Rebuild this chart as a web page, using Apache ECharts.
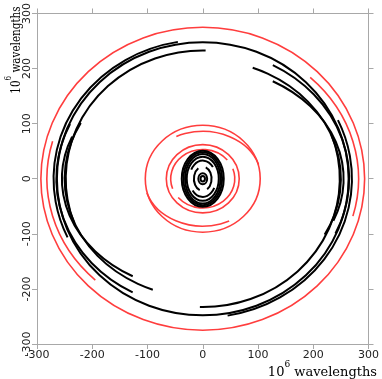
<!DOCTYPE html>
<html>
<head>
<meta charset="utf-8">
<title>uv coverage</title>
<script src="https://cdn.jsdelivr.net/npm/echarts@6.0.0/dist/echarts.min.js"></script>
<style>
    html, body {
        margin: 0;
        padding: 0;
        background: #fff;
    }
    #uv {
        width: 382px;
        height: 379px;
    }
</style>
</head>
<body>
<div id="uv"></div>
<script>
// tick labels on both axes (10^6 wavelengths)
var ticks = [-300, -200, -100, 0, 100, 200, 300];

// tracks: [rx, ry, from angle, to angle] in degrees, counter-clockwise from +u
var blackTracks = [
    [264, 248, 0, 360],
    [270, 252, 99.6, 205],
    [270, 252, 279.6, 385],
    [248, 233, 88.8, 200],
    [248, 233, 268.8, 380],
    [250, 216, -28, 68.8],
    [250, 216, 152, 248.8],
    [265, 235, -25, 61.4],
    [265, 235, 155, 241.4],
    [255, 204, -22, 60.2],
    [255, 204, 158, 240.2],
    // short baselines near the centre
    [38, 51, 0, 360],
    [35, 48, 0, 360],
    [32, 45, 0, 360],
    [29, 40, 0, 360],
    [24, 33, 40, 150],
    [24, 33, 220, 330],
    [16, 22, 120, 250],
    [16, 22, 300, 430],
    [8, 10, 0, 360],
    [4, 5, 0, 360]
];

var redTracks = [
    [293, 275, 0, 360],
    [282, 254, -15.5, 46.4],
    [282, 254, 164.5, 226.4],
    [104, 97, 0, 360],
    [106, 86, 17.6, 116.8],
    [106, 86, 197.6, 296.8],
    [66, 62, 0, 360],
    [58, 53, 40, 200],
    [58, 53, 220, 380]
];

var chart = echarts.init(document.getElementById("uv"));

function arcRenderer(color, width) {
    return function (params, api) {
        var rx = api.value(0);
        var ry = api.value(1);
        var a0 = api.value(2);
        var a1 = api.value(3);
        var size = api.size([rx, ry]);
        var stops = a1 - a0 >= 359.9 ? [a0, a0 + 180, a1] : [a0, a1];
        var d = "";
        for (var i = 0; i < stops.length; i++) {
            var t = stops[i] * Math.PI / 180;
            var p = api.coord([rx * Math.cos(t), ry * Math.sin(t)]);
            if (i === 0) {
                d += "M" + p[0] + " " + p[1];
            } else {
                var large = stops[i] - stops[i - 1] > 180 ? 1 : 0;
                d += " A" + size[0] + " " + size[1] + " 0 " + large + " 0 " + p[0] + " " + p[1];
            }
        }
        return {
            type: "path",
            shape: { pathData: d },
            style: { stroke: color, fill: null, lineWidth: width }
        };
    };
}

var axisColor = "#a8a8a8";
var labelFont = "DejaVu Sans";

function frameAxis(position, showLabel, rotate, margin) {
    return {
        type: "value",
        position: position,
        min: ticks[0],
        max: ticks[ticks.length - 1],
        interval: ticks[1] - ticks[0],
        axisLine: { show: true, onZero: false, lineStyle: { color: axisColor, width: 1 } },
        axisTick: { show: true, inside: false, length: 5, lineStyle: { color: axisColor } },
        axisLabel: {
            show: showLabel,
            rotate: rotate,
            margin: margin,
            color: "#222",
            fontSize: 11,
            fontFamily: labelFont
        },
        splitLine: { show: false }
    };
}

var nameRich = {
    a: { fontSize: 13, fontFamily: "DejaVu Serif", color: "#222", lineHeight: 19, verticalAlign: "bottom" },
    s: { fontSize: 9, fontFamily: "DejaVu Serif", color: "#222", lineHeight: 19, verticalAlign: "top" }
};

var options = {
    animation: false,
    backgroundColor: "#fff",
    grid: {
        left: 37,
        right: 13,
        top: 11,
        bottom: 35
    },
    xAxis: [frameAxis("bottom", true, 0, 6), frameAxis("top", false, 0, 6)],
    yAxis: [frameAxis("left", true, 90, 4), frameAxis("right", false, 0, 6)],
    graphic: [
        {
            type: "text",
            right: 5,
            bottom: 0,
            style: { text: "{a|10}{s|6}{a| wavelengths}", rich: nameRich }
        },
        {
            type: "text",
            x: 14,
            y: 50,
            rotation: Math.PI / 2,
            scaleX: 0.8,
            style: {
                text: "{a|10}{s|6}{a| wavelengths}",
                rich: nameRich,
                align: "center",
                verticalAlign: "middle"
            }
        }
    ],
    series: [
        {
            type: "custom",
            name: "red",
            xAxisIndex: 0,
            yAxisIndex: 0,
            renderItem: arcRenderer("#ff3d3d", 1.6),
            data: redTracks
        },
        {
            type: "custom",
            name: "black",
            xAxisIndex: 0,
            yAxisIndex: 0,
            renderItem: arcRenderer("#000", 2),
            data: blackTracks
        }
    ]
};

chart.setOption(options, true);
</script>
</body>
</html>
